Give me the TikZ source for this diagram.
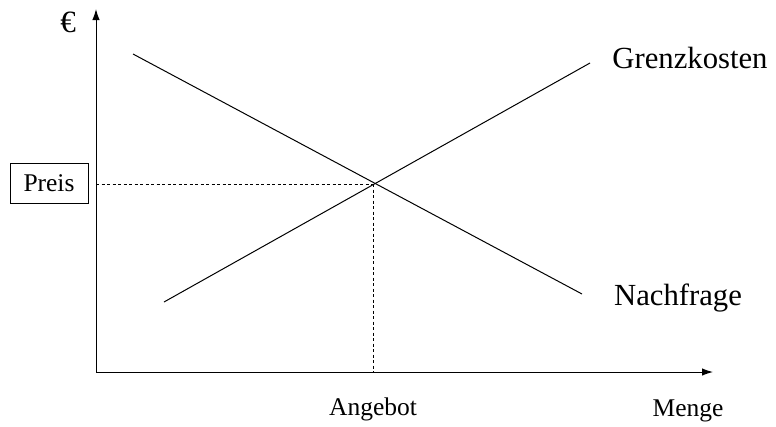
\documentclass[tikz,border=0pt]{standalone}
\usepackage{fontspec}
\setmainfont{Liberation Serif}
\usetikzlibrary{arrows.meta}
\begin{document}
\begin{tikzpicture}[x=1pt,y=-1pt,
  curve/.style={line width=1pt},
  axis/.style={line width=1pt,-{Latex[length=11pt,width=7.5pt]}},
  guide/.style={line width=0.9pt,dash pattern=on 3pt off 2.5pt},
  big/.style={font=\fontsize{30.7}{34}\selectfont,anchor=base},
  small/.style={font=\fontsize{25.5}{29}\selectfont,anchor=base}]
\useasboundingbox (0,0) rectangle (776,426);
\coordinate (O) at (96,372);
\coordinate (ytip) at (96,9);
\coordinate (xtip) at (713,372);
\draw[axis] (O) -- (ytip);
\draw[axis] (O) -- (xtip);
\coordinate (d1) at (133,54);
\coordinate (d2) at (582,294);
\coordinate (s1) at (164,302);
\coordinate (s2) at (590,63);
\draw[curve] (d1) -- (d2);
\draw[curve] (s1) -- (s2);
\coordinate (eq) at (373,184);
\coordinate (py) at (96,184);
\coordinate (qx) at (373,372);
\draw[guide] (py) -- (eq);
\draw[guide] (eq) -- (qx);
\node[draw,line width=0.9pt,minimum width=78pt,minimum height=40pt,inner sep=0pt,font=\fontsize{25.5}{29}\selectfont] (preis) at (49,183) {Preis};
\node[font=\fontsize{31}{34}\selectfont,anchor=base] (euro) at (68,32) {€};
\node[big] (gk) at (690,68) {Grenzkosten};
\node[big] (nf) at (678,305) {Nachfrage};
\node[small] (ang) at (373,415) {Angebot};
\node[small] (menge) at (688,416) {Menge};
\end{tikzpicture}
\end{document}
